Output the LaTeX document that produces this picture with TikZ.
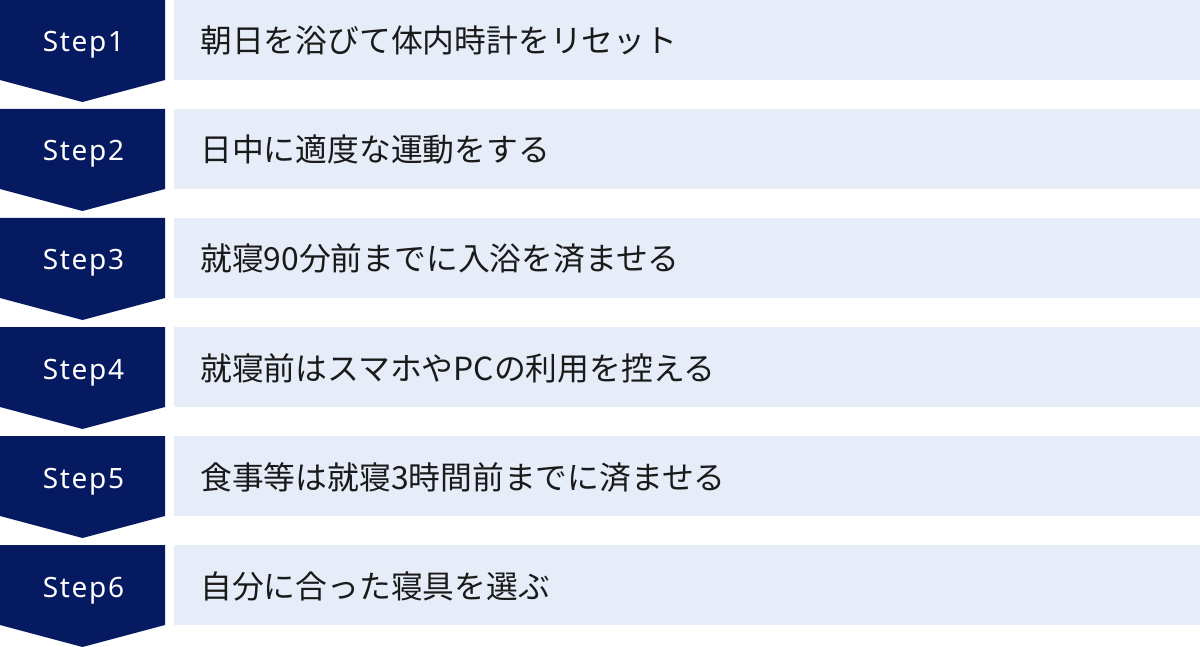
\documentclass[tikz,border=0pt]{standalone}
\usepackage{fontspec}
\setmainfont{Noto Sans CJK JP}
\newfontfamily\steplatin[LetterSpace=6]{Noto Sans}
\definecolor{navy}{HTML}{061A61}
\definecolor{lightbg}{HTML}{E6ECF8}
\definecolor{txt}{HTML}{1A1A1A}
\begin{document}
\begin{tikzpicture}[x=1pt,y=-1pt,
  stepshape/.style={fill=navy,draw=none},
  bgbox/.style={fill=lightbg,draw=none},
  steplabel/.style={text=white,inner sep=0pt,anchor=base,font=\steplatin\fontsize{28}{32}\selectfont},
  itemtext/.style={text=txt,inner sep=0pt,anchor=base west,font=\fontsize{31.8}{36}\selectfont}]
\useasboundingbox (0,0) rectangle (1200,647);
\foreach \i/\t in {1/朝日を浴びて体内時計をリセット,
                   2/日中に適度な運動をする,
                   3/就寝90分前までに入浴を済ませる,
                   4/就寝前はスマホやPCの利用を控える,
                   5/食事等は就寝3時間前までに済ませる,
                   6/自分に合った寝具を選ぶ}{
  \pgfmathsetmacro{\top}{(\i-1)*109}
  \fill[bgbox] (174,\top) rectangle (1200,\top+80);
  \fill[stepshape] (0,\top) -- (165,\top) -- (165,\top+80) -- (82.5,\top+102) -- (0,\top+80) -- cycle;
  \node[steplabel] (s\i) at (83.5,\top+52) {Step\i};
  \node[itemtext] (t\i) at (200,\top+53) {\t};
}
\end{tikzpicture}
\end{document}
